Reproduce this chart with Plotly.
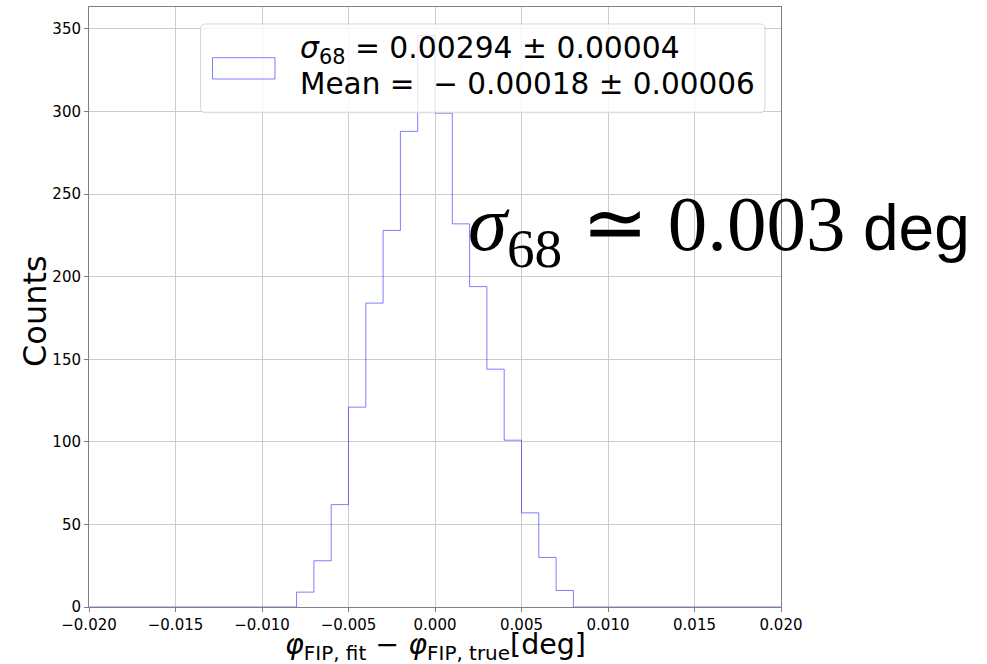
import numpy as np
import plotly.graph_objects as go

# ---- data ----
bin_left_edges = [-0.008, -0.007, -0.006, -0.005, -0.004, -0.003, -0.002, -0.001,
                  0.000, 0.001, 0.002, 0.003, 0.004, 0.005, 0.006, 0.007]
bin_width = 0.001
counts = [9, 28, 62, 121, 184, 228, 288, 346,
          299, 232, 194, 144, 101, 57, 30, 10]
x_range = [-0.02, 0.02]
y_range = [0, 363.3]
x_ticks = [-0.020, -0.015, -0.010, -0.005, 0.000, 0.005, 0.010, 0.015, 0.020]
y_ticks = [0, 50, 100, 150, 200, 250, 300, 350]
legend_line1 = "<i>σ</i><sub>68</sub> = 0.00294 ± 0.00004"
legend_line2 = "Mean =  − 0.00018 ± 0.00006"
big_text_serif = "<i>σ</i><sub>68</sub> ≃ 0.003"
big_text_sans = "deg"
x_title = "<i>φ</i><sub>FIP, fit</sub> − <i>φ</i><sub>FIP, true</sub>[deg]"
y_title = "Counts"

# ---- build step outline ----
edges = list(bin_left_edges) + [bin_left_edges[-1] + bin_width]
xs = [x_range[0]] + edges + [x_range[1]]
ys = [0] + list(counts) + [0, 0]

HIST_COLOR = "rgba(0,0,255,0.5)"

fig = go.Figure()
fig.add_trace(go.Scatter(x=xs, y=ys, mode="lines", line=dict(color=HIST_COLOR, width=1, shape="hv"),
                         showlegend=False, hoverinfo="skip"))

W, H = 987, 664
L, R, T, B = 89, 206, 7, 57
pw, ph = W - L - R, H - T - B

def px(xp):
    return (xp - L) / pw

def py(yp):
    return (H - B - yp) / ph

# legend box (rounded)
x0, x1 = px(200.5), px(765)
y0, y1 = py(112.7), py(24)
rx, ry = 5 / pw, 5 / ph
path = (f"M {x0+rx},{y0} L {x1-rx},{y0} Q {x1},{y0} {x1},{y0+ry} "
        f"L {x1},{y1-ry} Q {x1},{y1} {x1-rx},{y1} L {x0+rx},{y1} Q {x0},{y1} {x0},{y1-ry} "
        f"L {x0},{y0+ry} Q {x0},{y0} {x0+rx},{y0} Z")
shapes = [
    dict(type="path", path=path, xref="paper", yref="paper", layer="above",
         fillcolor="rgba(255,255,255,0.8)", line=dict(color="rgba(204,204,204,0.8)", width=1)),
    dict(type="rect", xref="paper", yref="paper", layer="above",
         x0=px(212.5), x1=px(275), y0=py(79), y1=py(57.7),
         fillcolor="rgba(0,0,0,0)", line=dict(color=HIST_COLOR, width=1)),
]

annotations = [
    dict(text=legend_line1, xref="paper", yref="paper", x=px(298), y=py(50), xanchor="left", yanchor="middle",
         showarrow=False, font=dict(family="DejaVu Sans", size=29.8, color="black")),
    dict(text=legend_line2, xref="paper", yref="paper", x=px(298), y=py(84), xanchor="left", yanchor="middle",
         showarrow=False, font=dict(family="DejaVu Sans", size=29.5, color="black")),
    dict(text=big_text_serif, xref="paper", yref="paper", x=px(466), y=py(229), xanchor="left", yanchor="middle",
         showarrow=False, font=dict(family="Liberation Serif", size=79, color="black")),
    dict(text=big_text_sans, xref="paper", yref="paper", x=px(861), y=py(228), xanchor="left", yanchor="middle",
         showarrow=False, font=dict(family="Liberation Sans", size=64, color="black")),
    dict(text=y_title, xref="paper", yref="paper", x=px(35), y=py(311), xanchor="center", yanchor="middle",
         textangle=-90, showarrow=False, font=dict(family="DejaVu Sans", size=32, color="black")),
    dict(text=x_title, xref="paper", yref="paper", x=px(436), y=py(626), xanchor="center", yanchor="top",
         showarrow=False, font=dict(family="DejaVu Sans", size=28.5, color="black")),
]

axis_common = dict(showline=True, mirror=True, linecolor="#808080", linewidth=1,
                   showgrid=True, gridcolor="#cccccc", gridwidth=1, zeroline=False,
                   ticks="outside", ticklen=4, tickcolor="#808080",
                   tickfont=dict(family="DejaVu Sans", size=15, color="black"))

fig.update_layout(
    width=W, height=H,
    margin=dict(l=L, r=R, t=T, b=B, autoexpand=False),
    paper_bgcolor="white", plot_bgcolor="white",
    xaxis=dict(range=x_range, tickvals=x_ticks, tickformat=".3f", **axis_common),
    yaxis=dict(range=y_range, tickvals=y_ticks, **axis_common),
    shapes=shapes, annotations=annotations,
)

fig.write_html("out.html")
